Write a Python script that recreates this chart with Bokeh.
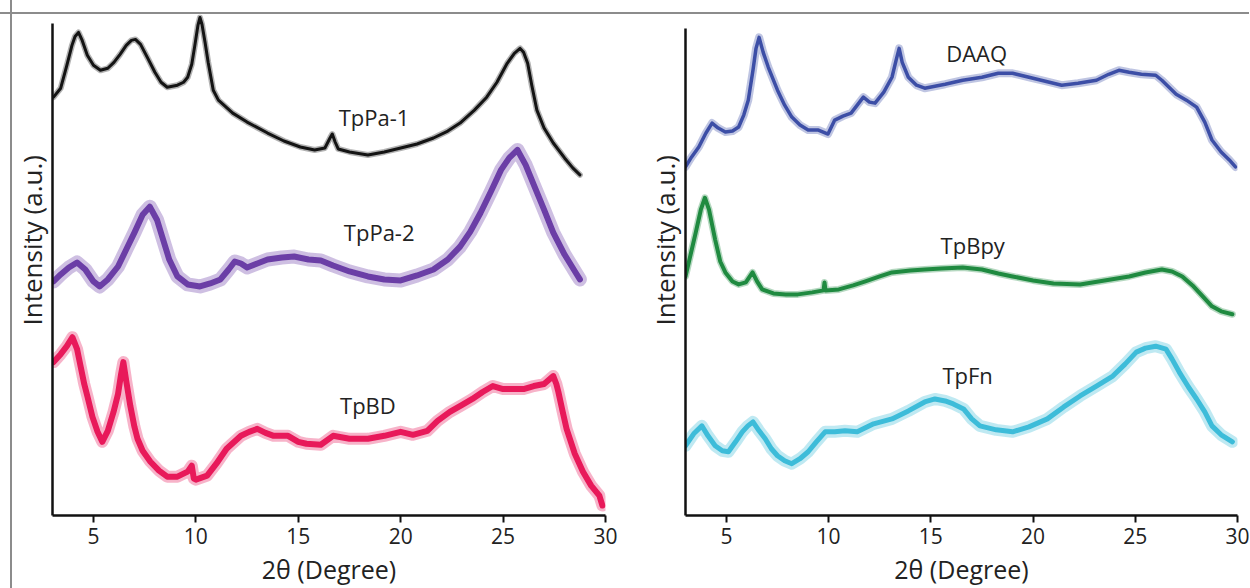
from bokeh.plotting import figure
from bokeh.layouts import row
from bokeh.models import FixedTicker, Range1d, ColumnDataSource, Title
from bokeh.core.properties import value
from bokeh.embed import file_html
from bokeh.resources import INLINE

FONT = "Open Sans"

# ---------------- data (2theta in degrees, intensity in a.u. incl. stacking offset) -------------
tppa1_x = [3.05, 3.4, 3.7, 3.95, 4.1, 4.27, 4.45, 4.7, 5.0, 5.34, 5.7, 6.0, 6.3, 6.6, 6.85, 7.05, 7.3, 7.63,
           8.0, 8.3, 8.6, 9.1, 9.4, 9.6, 9.8, 9.95, 10.1, 10.2, 10.3, 10.45, 10.6, 10.85, 11.1, 11.8, 12.5,
           13.5, 14.3, 15.1, 15.8, 16.3, 16.55, 16.66, 16.8, 16.95, 17.5, 18.4, 19.2, 20.0, 20.8, 21.6, 22.3,
           22.9, 23.6, 24.2, 24.7, 25.2, 25.55, 25.83, 26.0, 26.2, 26.4, 26.65, 27.0, 27.45, 28.0, 28.4, 28.75]
tppa1_y = [420, 429, 452, 472, 481, 485, 477, 462, 452, 447, 449, 455, 463, 472, 477, 478, 473, 460,
           445, 435, 430, 432, 435, 440, 453, 472, 492, 500, 493, 475, 455, 427, 417, 404, 395,
           384, 376, 370, 367, 369, 379, 383, 375, 368, 365, 362, 365, 369, 373, 379, 386,
           394, 407, 420, 435, 454, 464, 469, 465, 454, 432, 407, 389, 374, 359, 349, 342]

tppa2_x = [3.05, 3.4, 3.8, 4.2, 4.6, 5.0, 5.3, 5.7, 6.2, 6.6, 7.0, 7.4, 7.75, 8.1, 8.4, 8.7, 9.1, 9.6, 10.2,
           10.7, 11.2, 11.6, 11.9, 12.2, 12.5, 13.0, 13.5, 14.2, 14.8, 15.5, 16.1, 16.7, 17.5, 18.4, 19.2,
           20.0, 20.8, 21.6, 22.3, 22.9, 23.4, 23.9, 24.4, 24.9, 25.3, 25.7, 26.1, 26.5, 27.0, 27.45, 28.0,
           28.6, 28.75]
tppa2_y = [235, 242, 249, 254, 247, 235, 230, 237, 250, 267, 284, 302, 310, 297, 277, 257, 240, 232, 230,
           233, 237, 247, 255, 253, 249, 253, 257, 259, 260, 257, 256, 251, 245, 240, 237,
           236, 241, 247, 257, 270, 285, 304, 325, 347, 359, 367, 352, 332, 307, 284, 262,
           242, 237]

tpbd_x = [3.05, 3.4, 3.7, 3.97, 4.2, 4.37, 4.55, 4.7, 4.95, 5.2, 5.43, 5.7, 5.98, 6.2, 6.35, 6.46, 6.6, 6.8,
          7.0, 7.15, 7.4, 7.78, 8.2, 8.6, 9.1, 9.6, 9.8, 9.9, 10.0, 10.55, 11.0, 11.5, 12.2, 12.6, 13.0,
          13.4, 13.8, 14.5, 15.0, 15.4, 16.1, 16.7, 17.5, 18.4, 19.2, 20.0, 20.6, 21.3, 21.8, 22.4, 23.0,
          23.5, 24.0, 24.5, 25.0, 25.5, 26.0, 26.5, 27.0, 27.45, 27.6, 27.7, 27.9, 28.1, 28.5, 28.9, 29.3,
          29.7, 29.85]
tpbd_y = [154, 162, 170, 179, 167, 150, 132, 120, 99, 84, 74, 85, 104, 122, 142, 154, 135, 110,
          89, 77, 65, 54, 45, 39, 39, 44, 50, 37, 36, 40, 52, 67, 80, 84, 87,
          83, 80, 80, 74, 72, 71, 80, 77, 77, 80, 84, 81, 85, 95, 104, 111,
          117, 124, 130, 127, 127, 127, 130, 132, 140, 132, 124, 105, 87, 62, 44, 30,
          20, 10]

daaq_x = [3.0, 3.3, 3.65, 4.0, 4.3, 4.6, 4.95, 5.3, 5.6, 5.85, 6.07, 6.3, 6.45, 6.6, 6.8, 7.05, 7.5, 7.85,
          8.2, 8.6, 9.0, 9.5, 9.97, 10.3, 10.7, 11.1, 11.4, 11.7, 12.0, 12.27, 12.7, 13.1, 13.3, 13.45,
          13.6, 13.9, 14.3, 14.7, 15.2, 15.7, 16.56, 17.5, 18.3, 19.0, 19.8, 20.6, 21.4, 22.2, 23.1, 23.7,
          24.2, 24.7, 25.3, 26.0, 26.3, 26.65, 27.0, 27.5, 28.0, 28.4, 28.75, 29.2, 29.6, 29.9]
daaq_y = [350, 360, 370, 384, 394, 389, 385, 386, 390, 402, 417, 447, 469, 480, 465, 450, 427, 412,
          400, 392, 387, 387, 383, 397, 401, 404, 412, 420, 415, 414, 425, 440, 457, 469,
          455, 440, 432, 429, 431, 433, 437, 440, 444, 444, 440, 436, 432, 434, 437, 443,
          447, 445, 443, 442, 437, 430, 423, 417, 410, 395, 377, 365, 357, 350]

tpbpy_x = [3.0, 3.25, 3.5, 3.75, 3.95, 4.15, 4.45, 4.7, 4.95, 5.3, 5.6, 5.95, 6.28, 6.5, 6.75, 7.3, 7.9,
           8.5, 9.2, 9.75, 9.8, 9.85, 10.5, 11.2, 11.8, 12.5, 13.1, 14.0, 14.7, 15.5, 16.56, 17.5, 18.3,
           19.0, 20.0, 21.0, 22.3, 23.5, 24.7, 25.5, 26.3, 26.8, 27.3, 27.8, 28.3, 28.75, 29.2, 29.75]
tpbpy_y = [240, 262, 284, 307, 319, 307, 277, 255, 244, 235, 232, 234, 244, 235, 227, 223, 222,
           222, 224, 226, 234, 226, 227, 231, 235, 240, 244, 246, 247, 248, 249, 247, 243,
           240, 236, 233, 232, 236, 240, 244, 247, 245, 240, 231, 220, 210, 205, 202]

tpfn_x = [3.0, 3.4, 3.8, 4.1, 4.45, 4.8, 5.1, 5.45, 5.78, 6.05, 6.3, 6.6, 6.9, 7.2, 7.5, 7.85, 8.2, 8.6,
          9.0, 9.4, 9.83, 10.3, 10.8, 11.4, 12.2, 13.1, 13.9, 14.7, 15.2, 15.7, 16.1, 16.6, 17.0, 17.4,
          18.2, 19.0, 19.8, 20.7, 21.5, 22.3, 23.1, 23.9, 24.5, 25.05, 25.5, 26.0, 26.5, 26.8, 27.15,
          27.6, 28.0, 28.4, 28.75, 29.2, 29.75]
tpfn_y = [70, 82, 90, 80, 70, 65, 64, 74, 84, 90, 94, 85, 77, 67, 60, 55, 52, 57,
          64, 74, 84, 84, 85, 84, 92, 97, 105, 114, 117, 115, 112, 107, 97, 90,
          86, 84, 89, 97, 109, 120, 130, 140, 152, 164, 168, 170, 167, 157, 144,
          129, 117, 104, 90, 81, 74]

x_ticks = [5, 10, 15, 20, 25, 30]

left_names = ["TpPa-1", "TpPa-2", "TpBD"]
left_label_x = [18.7, 18.95, 18.4]
left_label_y = [400, 285, 111]

right_names = ["DAAQ", "TpBpy", "TpFn"]
right_label_x = [17.24, 17.05, 16.8]
right_label_y = [464, 272, 141]

Y_TITLE = "Intensity (a.u.)"
X_TITLE = "2θ (Degree)"

# ---------------- styling -------------
C_TPPA1 = "#141414"
C_TPPA2 = "#6b3ea6"
C_TPBD = "#e8195a"
C_DAAQ = "#3c4ea6"
C_TPBPY = "#1f8a40"
C_TPFN = "#3dbcd9"
TEXT = "#222222"

Y_MAX = 503          # frame top (the TpPa-1 peak rises above the axis line)
HEIGHT = 588
BORDER_TOP = 14
BORDER_BOTTOM = HEIGHT - BORDER_TOP - Y_MAX


def make_panel(width, border_left, border_right, axis_top, title_standoff):
    p = figure(width=width, height=HEIGHT,
               x_range=Range1d(3, 30), y_range=Range1d(0, Y_MAX),
               output_backend="svg", toolbar_location=None,
               min_border_left=border_left, min_border_right=border_right,
               min_border_top=BORDER_TOP, min_border_bottom=BORDER_BOTTOM)
    p.outline_line_color = None
    p.grid.visible = False
    p.background_fill_color = None
    p.border_fill_color = None

    xa = p.xaxis[0]
    xa.ticker = FixedTicker(ticks=x_ticks)
    xa.minor_tick_line_color = None
    xa.major_tick_in = 0
    xa.major_tick_out = 7
    xa.major_tick_line_width = 2
    xa.major_tick_line_color = "#111111"
    xa.axis_line_width = 2.5
    xa.axis_line_color = "#111111"
    xa.major_label_text_font = FONT
    xa.major_label_text_font_size = "21px"
    xa.major_label_text_color = TEXT
    xa.major_label_standoff = 5
    xa.axis_label = X_TITLE
    xa.axis_label_text_font = FONT
    xa.axis_label_text_font_size = "25px"
    xa.axis_label_text_font_style = "normal"
    xa.axis_label_text_color = TEXT
    xa.axis_label_standoff = 5

    # the visible y-axis line (no ticks, shorter than the frame)
    ya = p.yaxis[0]
    ya.ticker = FixedTicker(ticks=[])
    ya.minor_tick_line_color = None
    ya.major_tick_in = 0
    ya.major_tick_out = 0
    ya.major_label_text_font_size = "0px"
    ya.major_label_standoff = 0
    ya.axis_line_width = 2.5
    ya.axis_line_color = "#111111"
    ya.bounds = (0, axis_top)

    # y-axis title, starting 190 px above the x-axis as in the original
    p.add_layout(Title(text=Y_TITLE, align="left", offset=190, standoff=title_standoff,
                       text_font=FONT, text_font_size="26px", text_font_style="normal",
                       text_color=TEXT), "left")
    return p


def add_series(p, xs, ys, color, width, halo):
    src = ColumnDataSource(dict(x=xs, y=ys))
    # soft envelope standing in for the measurement noise band
    p.line("x", "y", source=src, line_color=color, line_width=halo, line_alpha=0.33,
           line_join="round", line_cap="round")
    p.line("x", "y", source=src, line_color=color, line_width=width,
           line_join="round", line_cap="round")


def add_labels(p, xs, ys, names):
    src = ColumnDataSource(dict(x=xs, y=ys, t=names))
    p.text("x", "y", text="t", source=src, text_font=value(FONT),
           text_font_size="22px", text_color=TEXT,
           text_align="center", text_baseline="middle")


left = make_panel(628, 52, 23, 494, 5)
add_series(left, tppa1_x, tppa1_y, C_TPPA1, 3, 6)
add_series(left, tppa2_x, tppa2_y, C_TPPA2, 6, 14)
add_series(left, tpbd_x, tpbd_y, C_TPBD, 6, 12)
add_labels(left, left_label_x, left_label_y, left_names)

right = make_panel(621, 57, 12, 489, 6)
add_series(right, daaq_x, daaq_y, C_DAAQ, 3.5, 8)
add_series(right, tpbpy_x, tpbpy_y, C_TPBPY, 4, 7)
add_series(right, tpfn_x, tpfn_y, C_TPFN, 5, 12)
add_labels(right, right_label_x, right_label_y, right_names)

frame_lines = ("linear-gradient(#8c8c8c, #8c8c8c) 0px 12px / 100% 2px no-repeat, "
               "linear-gradient(#8c8c8c, #8c8c8c) 10px 0px / 2px 100% no-repeat, white")
layout = row(left, right, styles={"background": frame_lines})

open("out.html", "w").write(file_html(layout, INLINE))
